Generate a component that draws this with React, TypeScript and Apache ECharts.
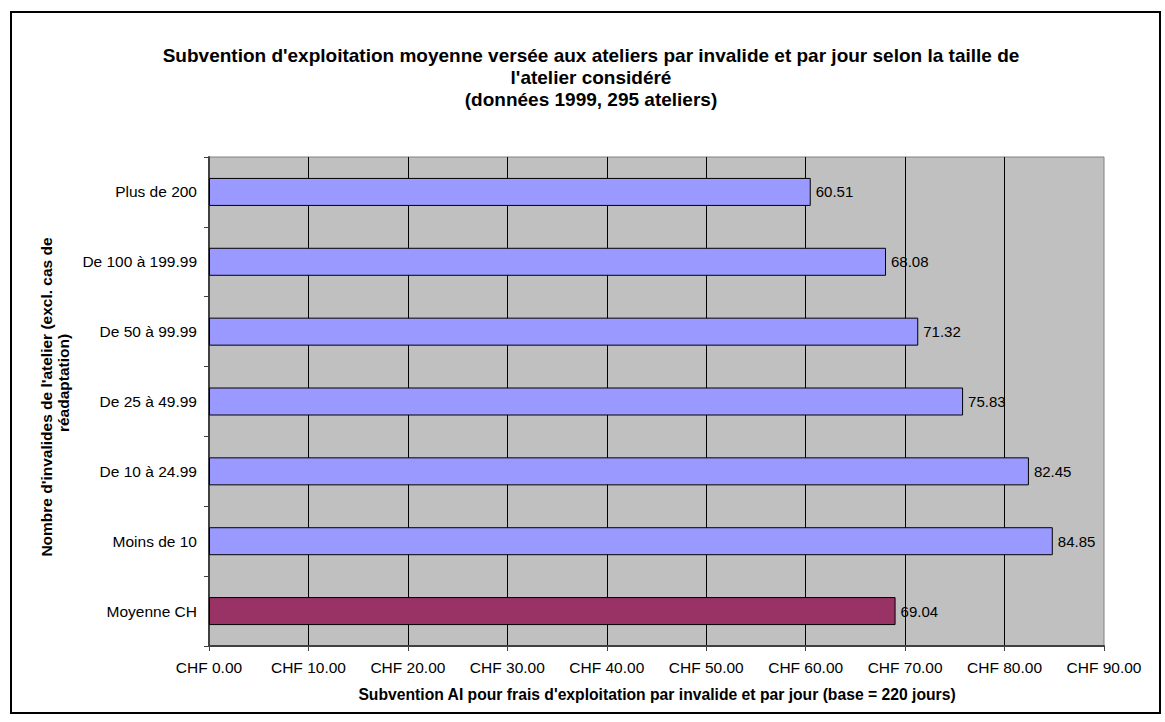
import React, { useEffect, useRef } from "react";
import * as echarts from "echarts";

// Workshop size classes, listed top to bottom
const categories = [
  "Plus de 200",
  "De 100 à 199.99",
  "De 50 à 99.99",
  "De 25 à 49.99",
  "De 10 à 24.99",
  "Moins de 10",
  "Moyenne CH",
];

// Average operating subsidy per disabled person and per day (CHF)
const subsidy = [60.51, 68.08, 71.32, 75.83, 82.45, 84.85, 69.04];

// Value axis ticks (CHF)
const axisMin = 0;
const axisMax = 90;
const axisStep = 10;

const averageCategory = "Moyenne CH";

const titleText =
  "Subvention d'exploitation moyenne versée aux ateliers par invalide et par jour selon la taille de\n" +
  "l'atelier considéré\n" +
  "(données 1999, 295 ateliers)";
const xAxisTitle =
  "Subvention AI pour frais d'exploitation par invalide et par jour (base = 220 jours)";
const yAxisTitleLines = [
  "Nombre d'invalides de l'atelier (excl. cas de",
  "réadaptation)",
];

const FONT = "'Liberation Sans', Arial, Helvetica, sans-serif";

export default function App() {
  const ref = useRef<HTMLDivElement>(null);

  useEffect(() => {
    if (!ref.current) return;
    const chart = echarts.init(ref.current, undefined, { renderer: "svg" });

    const barData = categories.map((c, i) => ({
      value: subsidy[i],
      itemStyle: {
        color: c === averageCategory ? "#993366" : "#9999FF",
        borderColor: "#000000",
        borderWidth: 1,
      },
    }));

    const yTitleStyle = {
      fontFamily: FONT,
      fontSize: 15.5,
      fontWeight: "bold",
      fill: "#000",
      textAlign: "center",
      textVerticalAlign: "middle",
    };

    chart.setOption({
      animation: false,
      backgroundColor: "#ffffff",
      textStyle: { fontFamily: FONT },
      title: {
        text: titleText,
        left: 586,
        top: 39,
        textAlign: "center",
        textStyle: {
          fontFamily: FONT,
          fontSize: 19,
          fontWeight: "bold",
          lineHeight: 22,
          color: "#000",
        },
      },
      grid: {
        left: 209,
        top: 157,
        width: 895,
        height: 489,
        show: true,
        backgroundColor: "#C0C0C0",
        borderColor: "#808080",
        borderWidth: 1,
        containLabel: false,
      },
      xAxis: {
        type: "value",
        min: axisMin,
        max: axisMax,
        interval: axisStep,
        axisLine: { show: true, lineStyle: { color: "#404040", width: 2 } },
        axisTick: { show: true, length: 5, lineStyle: { color: "#404040" } },
        axisLabel: {
          margin: 13,
          fontSize: 15.5,
          fontFamily: FONT,
          color: "#000",
          formatter: (v: number) => "CHF " + v.toFixed(2),
        },
        splitLine: {
          show: true,
          showMinLine: false,
          showMaxLine: false,
          lineStyle: { color: "#000000", width: 1 },
        },
      },
      yAxis: {
        type: "category",
        data: categories,
        inverse: true,
        axisLine: { show: true, lineStyle: { color: "#404040", width: 2 } },
        axisTick: { show: true, length: 5, lineStyle: { color: "#404040" } },
        axisLabel: {
          margin: 12,
          fontSize: 15.5,
          fontFamily: FONT,
          color: "#000",
        },
        splitLine: { show: false },
      },
      series: [
        {
          type: "bar",
          data: barData,
          barWidth: 28,
          label: {
            show: true,
            position: "right",
            distance: 5,
            fontSize: 15,
            fontFamily: FONT,
            color: "#000",
            formatter: (p: any) => Number(p.value).toFixed(2),
          },
        },
      ],
      graphic: [
        {
          type: "rect",
          shape: { x: 11, y: 12, width: 1149, height: 701 },
          style: { fill: "none", stroke: "#000", lineWidth: 2 },
          silent: true,
        },
        {
          type: "text",
          x: 657,
          y: 694,
          style: {
            text: xAxisTitle,
            fontFamily: FONT,
            fontSize: 15.7,
            fontWeight: "bold",
            fill: "#000",
            textAlign: "center",
            textVerticalAlign: "middle",
          },
        },
        {
          type: "text",
          x: 46,
          y: 397,
          rotation: Math.PI / 2,
          style: { ...yTitleStyle, text: yAxisTitleLines[0] },
        },
        {
          type: "text",
          x: 63,
          y: 383,
          rotation: Math.PI / 2,
          style: { ...yTitleStyle, text: yAxisTitleLines[1] },
        },
      ],
    });

    return () => chart.dispose();
  }, []);

  return (
    <div
      ref={ref}
      style={{ position: "fixed", left: 0, top: 0, width: 1165, height: 722 }}
    />
  );
}
